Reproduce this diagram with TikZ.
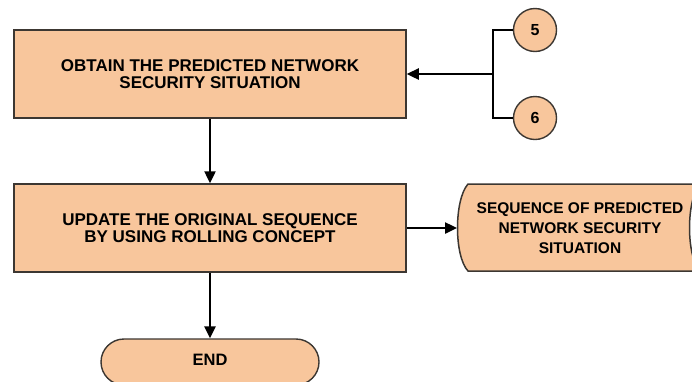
\documentclass[tikz,border=0pt]{standalone}
\usepackage{fontspec}
\setmainfont{Liberation Sans}
\usetikzlibrary{shapes.misc,arrows.meta}
\definecolor{boxfill}{RGB}{248,198,156}
\definecolor{boxline}{RGB}{60,55,50}
\begin{document}
\begin{tikzpicture}[x=1pt,y=-1pt,
  procbox/.style={draw=boxline,fill=boxfill,line width=1.5pt,minimum width=392pt,minimum height=88pt,inner sep=0pt,align=center,font=\fontsize{17}{17.5}\selectfont\bfseries},
  conn/.style={circle,draw=boxline,fill=boxfill,line width=1.4pt,minimum size=43pt,inner sep=0pt,font=\fontsize{16}{18}\selectfont\bfseries},
  term/.style={rounded rectangle,draw=boxline,fill=boxfill,line width=1.4pt,minimum width=218pt,minimum height=46pt,inner sep=0pt,font=\fontsize{16.5}{18}\selectfont\bfseries},
  seqtext/.style={align=center,inner sep=0pt,font=\fontsize{15.5}{20}\selectfont\bfseries},
  link/.style={draw=black,line width=2.4pt},
  arrow/.style={link,-{Triangle[length=12pt,width=11pt]}}
]
\useasboundingbox (0,0) rectangle (692,381);
\clip (0,0) rectangle (692,381);
\fill[white] (0,0) rectangle (692,381);

\node[procbox] (obtain) at (210,74) {OBTAIN THE PREDICTED NETWORK\\SECURITY SITUATION};
\node[procbox] (update) at (210,228) {UPDATE THE ORIGINAL SEQUENCE\\BY USING ROLLING CONCEPT};
\node[term] (end) at (210,362) {\raisebox{4pt}{END}};
\node[conn] (c5) at (535,30) {5};
\node[conn] (c6) at (535,118) {6};

% stored data shape
\draw[draw=boxline,fill=boxfill,line width=1.5pt]
  (468,184) -- (700,184) .. controls (686,200) and (686,256) .. (700,271)
  -- (468,271) .. controls (454,256) and (454,200) .. (468,184) -- cycle;
\coordinate (seqin) at (457,228);
\node[seqtext] (seq) at (580,228) {SEQUENCE OF PREDICTED\\NETWORK SECURITY\\SITUATION};

\coordinate (br) at (493,74);
\draw[link] (c5.west) -- (c5.west -| br) -- (c6.west -| br) -- (c6.west);
\draw[arrow] (br) -- (obtain.east |- br);
\draw[arrow] (obtain.south) -- (update.north);
\draw[arrow] (update.east) -- (update.east -| seqin);
\draw[arrow] (update.south) -- (end.north);
\end{tikzpicture}
\end{document}
